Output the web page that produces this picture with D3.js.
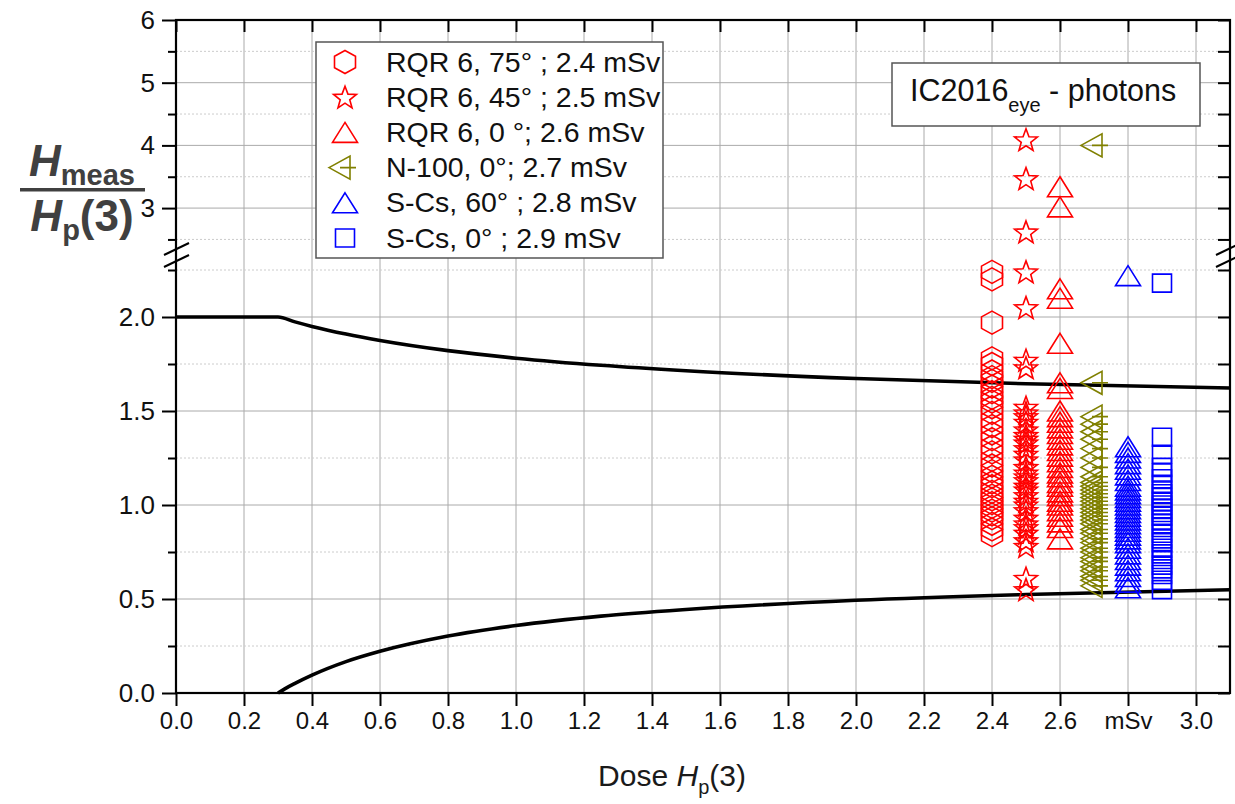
<!DOCTYPE html>
<html>
<head>
<meta charset="utf-8">
<script src="https://cdn.jsdelivr.net/npm/d3@7"></script>
<style>
  body { margin: 0; background: #fff; }
  svg { display: block; font-family: "Liberation Sans", Arial, sans-serif; }
</style>
</head>
<body>
<svg id="chart" width="1235" height="804"></svg>
<script>
// ---- data -------------------------------------------------------------
const doseLevels = [2.4, 2.5, 2.6, 2.7, 2.8, 2.9];
const legendLabels = [
  "RQR 6, 75° ; 2.4 mSv",
  "RQR 6, 45° ; 2.5 mSv",
  "RQR 6, 0 °; 2.6 mSv",
  "N-100, 0°; 2.7 mSv",
  "S-Cs, 60° ; 2.8 mSv",
  "S-Cs, 0° ; 2.9 mSv"
];
// response ratios H_meas / H_p(3) per participant
const rqr6_75 = [2.24, 2.20, 1.97, 1.78, 1.75, 1.71, 1.68, 1.66, 1.63, 1.60, 1.57, 1.55, 1.52,
  1.49, 1.45, 1.42, 1.38, 1.35, 1.31, 1.28, 1.24, 1.21, 1.18, 1.15, 1.12, 1.10, 1.07, 1.05,
  1.03, 1.01, 0.99, 0.97, 0.95, 0.93, 0.90, 0.87, 0.84];
const rqr6_45 = [4.09, 3.47, 2.62, 2.24, 2.05, 1.77, 1.73, 1.52, 1.49, 1.47, 1.44, 1.40, 1.37,
  1.35, 1.33, 1.30, 1.27, 1.24, 1.20, 1.17, 1.15, 1.13, 1.10, 1.08, 1.05, 1.02, 1.00, 0.97,
  0.93, 0.90, 0.88, 0.85, 0.81, 0.78, 0.61, 0.55];
const rqr6_0 = [3.34, 3.02, 2.15, 2.10, 1.86, 1.65, 1.62, 1.50, 1.47, 1.44, 1.41, 1.38, 1.35,
  1.32, 1.29, 1.26, 1.23, 1.20, 1.17, 1.15, 1.12, 1.10, 1.07, 1.05, 1.02, 1.00, 0.97, 0.94,
  0.91, 0.88, 0.82];
const n100_0 = [4.00, 1.65, 1.47, 1.43, 1.39, 1.35, 1.30, 1.25, 1.20, 1.15, 1.12, 1.10, 1.08,
  1.06, 1.04, 1.02, 1.00, 0.98, 0.96, 0.94, 0.92, 0.90, 0.87, 0.85, 0.82, 0.80, 0.77, 0.75,
  0.72, 0.70, 0.67, 0.65, 0.62, 0.60, 0.57];
const sCs_60 = [2.22, 1.31, 1.28, 1.25, 1.22, 1.19, 1.16, 1.13, 1.10, 1.08, 1.06, 1.04, 1.02,
  1.00, 0.98, 0.96, 0.94, 0.92, 0.90, 0.88, 0.86, 0.84, 0.82, 0.80, 0.77, 0.74, 0.71, 0.68,
  0.65, 0.62, 0.59, 0.56];
const sCs_0 = [2.18, 1.36, 1.27, 1.20, 1.17, 1.14, 1.11, 1.08, 1.06, 1.04, 1.02, 1.00, 0.98,
  0.96, 0.94, 0.92, 0.90, 0.88, 0.85, 0.82, 0.80, 0.77, 0.74, 0.71, 0.68, 0.66, 0.63, 0.60, 0.55];

// trumpet-curve acceptance limits
const upperDose  = [0, 0.3, 0.35, 0.4, 0.5, 0.6, 0.8, 1.0, 1.25, 1.5, 2.0, 2.5, 3.1];
const upperLimit = [2.0, 2.0, 1.974, 1.95, 1.909, 1.875, 1.821, 1.781, 1.743, 1.714, 1.673, 1.645, 1.622];
const lowerDose  = [0.3, 0.32, 0.35, 0.4, 0.5, 0.6, 0.8, 1.0, 1.25, 1.5, 2.0, 2.5, 3.1];
const lowerLimit = [0, 0.022, 0.051, 0.095, 0.167, 0.222, 0.303, 0.359, 0.409, 0.444, 0.493, 0.524, 0.549];

// axis ticks
const xTickValues = [0, 0.2, 0.4, 0.6, 0.8, 1.0, 1.2, 1.4, 1.6, 1.8, 2.0, 2.2, 2.4, 2.6, 2.8, 3.0];
const xTickLabels = ["0.0", "0.2", "0.4", "0.6", "0.8", "1.0", "1.2", "1.4", "1.6", "1.8",
  "2.0", "2.2", "2.4", "2.6", "mSv", "3.0"];
const yLowMajor = [0, 0.5, 1.0, 1.5, 2.0];
const yLowMinor = [0.25, 0.75, 1.25, 1.75, 2.25];
const yUpMajor = [3, 4, 5, 6];
const yUpMinor = [2.5, 3.5, 4.5, 5.5];

// ---- layout -----------------------------------------------------------
const plotLeft = 176, plotRight = 1230, plotTop = 20, plotBottom = 693;
const svg = d3.select("#chart");

const x = d3.scaleLinear().domain([0, 3.1]).range([plotLeft, plotRight]);
// broken y axis: two linear segments
const yLow = d3.scaleLinear().domain([0, 2.35]).range([plotBottom, 251.2]);
const yUp = d3.scaleLinear().domain([2.4, 6]).range([245.7, plotTop]);
const yPos = v => (v <= 2.37 ? yLow(v) : yUp(v));

const red = "#ff0000", olive = "#808000", blue = "#0000ff";

// ---- grid -------------------------------------------------------------
const grid = svg.append("g");
grid.selectAll(".vgrid").data(xTickValues.slice(1)).join("line")
  .attr("x1", d => x(d)).attr("x2", d => x(d))
  .attr("y1", plotTop).attr("y2", plotBottom)
  .attr("stroke", "#aaaaaa").attr("stroke-width", 1);
grid.selectAll(".hmaj")
  .data([...yLowMajor.slice(1).map(yLow), ...yUpMajor.slice(0, 3).map(yUp)]).join("line")
  .attr("x1", plotLeft).attr("x2", plotRight).attr("y1", d => d).attr("y2", d => d)
  .attr("stroke", "#aaaaaa").attr("stroke-width", 1);
grid.selectAll(".hmin")
  .data([...yLowMinor.map(yLow), ...yUpMinor.map(yUp)]).join("line")
  .attr("x1", plotLeft).attr("x2", plotRight).attr("y1", d => d).attr("y2", d => d)
  .attr("stroke", "#cccccc").attr("stroke-width", 1).attr("stroke-dasharray", "2,2");

// ---- limit curves -----------------------------------------------------
const line = d3.line().curve(d3.curveMonotoneX);
svg.append("path")
  .attr("d", line(upperDose.map((d, i) => [x(d), yLow(upperLimit[i])])))
  .attr("fill", "none").attr("stroke", "#000").attr("stroke-width", 3.6);
svg.append("path")
  .attr("d", line(lowerDose.map((d, i) => [x(d), yLow(lowerLimit[i])])))
  .attr("fill", "none").attr("stroke", "#000").attr("stroke-width", 3.6);

// ---- marker shapes ----------------------------------------------------
function starPath(R, r) {
  const pts = [];
  for (let i = 0; i < 10; i++) {
    const a = -Math.PI / 2 + i * Math.PI / 5;
    const rad = i % 2 === 0 ? R : r;
    pts.push([rad * Math.cos(a), rad * Math.sin(a) + 1]);
  }
  return "M" + pts.map(p => p[0].toFixed(2) + "," + p[1].toFixed(2)).join("L") + "Z";
}
const shapes = {
  hexagon: "M0,-11.5L10.5,-5.75L10.5,5.75L0,11.5L-10.5,5.75L-10.5,-5.75Z",
  star: starPath(12, 5),
  triangle: "M0,-10L12.5,10L-12.5,10Z",
  leftTriangle: "M-13,0L8,-11.5L8,11.5Z M-2,0L14,0",
  square: "M-9.5,-9L9.5,-9L9.5,9L-9.5,9Z"
};

const series = [
  { values: rqr6_75, dose: doseLevels[0], color: red, shape: "hexagon" },
  { values: rqr6_45, dose: doseLevels[1], color: red, shape: "star" },
  { values: rqr6_0, dose: doseLevels[2], color: red, shape: "triangle" },
  { values: n100_0, dose: doseLevels[3], color: olive, shape: "leftTriangle" },
  { values: sCs_60, dose: doseLevels[4], color: blue, shape: "triangle" },
  { values: sCs_0, dose: doseLevels[5], color: blue, shape: "square" }
];

// ---- points -----------------------------------------------------------
series.forEach(s => {
  svg.append("g").selectAll("path").data(s.values).join("path")
    .attr("d", shapes[s.shape])
    .attr("transform", v => `translate(${x(s.dose)},${yPos(v)})`)
    .attr("fill", "none").attr("stroke", s.color).attr("stroke-width", 1.6);
});

// ---- axes -------------------------------------------------------------
const axisStyle = g => {
  g.select(".domain").remove();
  g.selectAll(".tick line").attr("stroke", "#000").attr("stroke-width", 2);
  g.selectAll("text").attr("fill", "#111");
};

// left axis
svg.append("g").attr("transform", `translate(${plotLeft},0)`)
  .call(d3.axisLeft(yLow).tickValues(yLowMajor).tickSize(14).tickPadding(7).tickFormat(d3.format(".1f")))
  .call(axisStyle).call(g => g.selectAll("text").attr("font-size", 26));
svg.append("g").attr("transform", `translate(${plotLeft},0)`)
  .call(d3.axisLeft(yLow).tickValues(yLowMinor).tickSize(8).tickFormat(""))
  .call(axisStyle);
svg.append("g").attr("transform", `translate(${plotLeft},0)`)
  .call(d3.axisLeft(yUp).tickValues(yUpMajor).tickSize(14).tickPadding(7).tickFormat(d3.format("d")))
  .call(axisStyle).call(g => g.selectAll("text").attr("font-size", 26));
svg.append("g").attr("transform", `translate(${plotLeft},0)`)
  .call(d3.axisLeft(yUp).tickValues(yUpMinor).tickSize(8).tickFormat(""))
  .call(axisStyle);

// right axis (inward ticks)
[[yLow, [...yLowMajor, ...yLowMinor]], [yUp, [...yUpMajor, ...yUpMinor]]].forEach(([sc, vals]) => {
  svg.append("g").attr("transform", `translate(${plotRight},0)`)
    .call(d3.axisRight(sc).tickValues(vals).tickSize(-12).tickFormat(""))
    .call(axisStyle);
});

// bottom axis
svg.append("g").attr("transform", `translate(0,${plotBottom})`)
  .call(d3.axisBottom(x).tickValues(xTickValues).tickSize(13).tickPadding(6)
    .tickFormat((d, i) => xTickLabels[i]))
  .call(axisStyle).call(g => g.selectAll("text").attr("font-size", 24));

// top axis (inward ticks)
svg.append("g").attr("transform", `translate(0,${plotTop})`)
  .call(d3.axisTop(x).tickValues(xTickValues).tickSize(-12).tickFormat(""))
  .call(axisStyle);

// frame
svg.append("rect").attr("x", plotLeft).attr("y", plotTop)
  .attr("width", plotRight - plotLeft).attr("height", plotBottom - plotTop)
  .attr("fill", "none").attr("stroke", "#000").attr("stroke-width", 2.2);

// axis-break marks
function breakMarks(cx) {
  [249, 261].forEach(cy => {
    svg.append("line")
      .attr("x1", cx - 12).attr("y1", cy + 6)
      .attr("x2", cx + 13).attr("y2", cy - 6)
      .attr("stroke", "#000").attr("stroke-width", 2);
  });
}
breakMarks(plotLeft);
breakMarks(plotRight - 2);

// ---- axis titles ------------------------------------------------------
const xt = svg.append("text").attr("x", 672).attr("y", 786)
  .attr("text-anchor", "middle").attr("font-size", 30).attr("fill", "#1a1a1a");
xt.append("tspan").text("Dose ");
xt.append("tspan").attr("font-style", "italic").text("H");
xt.append("tspan").attr("font-size", 20).attr("dy", 8).text("p");
xt.append("tspan").attr("dy", -8).text("(3)");

const yt = svg.append("g").attr("fill", "#404040").attr("font-weight", "bold");
const num = yt.append("text").attr("x", 82).attr("y", 176).attr("text-anchor", "middle");
num.append("tspan").attr("font-size", 44).attr("font-style", "italic").text("H");
num.append("tspan").attr("font-size", 29).attr("dy", 9).text("meas");
yt.append("rect").attr("x", 20).attr("y", 188).attr("width", 125).attr("height", 3.5);
const den = yt.append("text").attr("x", 82).attr("y", 231).attr("text-anchor", "middle");
den.append("tspan").attr("font-size", 44).attr("font-style", "italic").text("H");
den.append("tspan").attr("font-size", 29).attr("dy", 9).text("p");
den.append("tspan").attr("font-size", 44).attr("dy", -9).text("(3)");

// ---- legend -----------------------------------------------------------
const legend = svg.append("g");
legend.append("rect").attr("x", 316).attr("y", 42).attr("width", 347).attr("height", 216)
  .attr("fill", "#fff").attr("stroke", "#555").attr("stroke-width", 1.5);
series.forEach((s, i) => {
  const cy = 62 + i * 35.2;
  legend.append("path").attr("d", shapes[s.shape])
    .attr("transform", `translate(${s.shape === "leftTriangle" ? 342 : 345},${cy})`)
    .attr("fill", "none").attr("stroke", s.color).attr("stroke-width", 1.6);
  legend.append("text").attr("x", 386).attr("y", cy + 9.5)
    .attr("font-size", 28.5).attr("fill", "#111").text(legendLabels[i]);
});

// ---- annotation box ---------------------------------------------------
svg.append("rect").attr("x", 892).attr("y", 63).attr("width", 308).attr("height", 63)
  .attr("fill", "#fff").attr("stroke", "#555").attr("stroke-width", 1.5);
const ann = svg.append("text").attr("x", 910).attr("y", 101).attr("font-size", 30.5).attr("fill", "#111");
ann.append("tspan").text("IC2016");
ann.append("tspan").attr("font-size", 20).attr("dy", 11).text("eye");
ann.append("tspan").attr("dy", -11).text(" - photons");
</script>
</body>
</html>
